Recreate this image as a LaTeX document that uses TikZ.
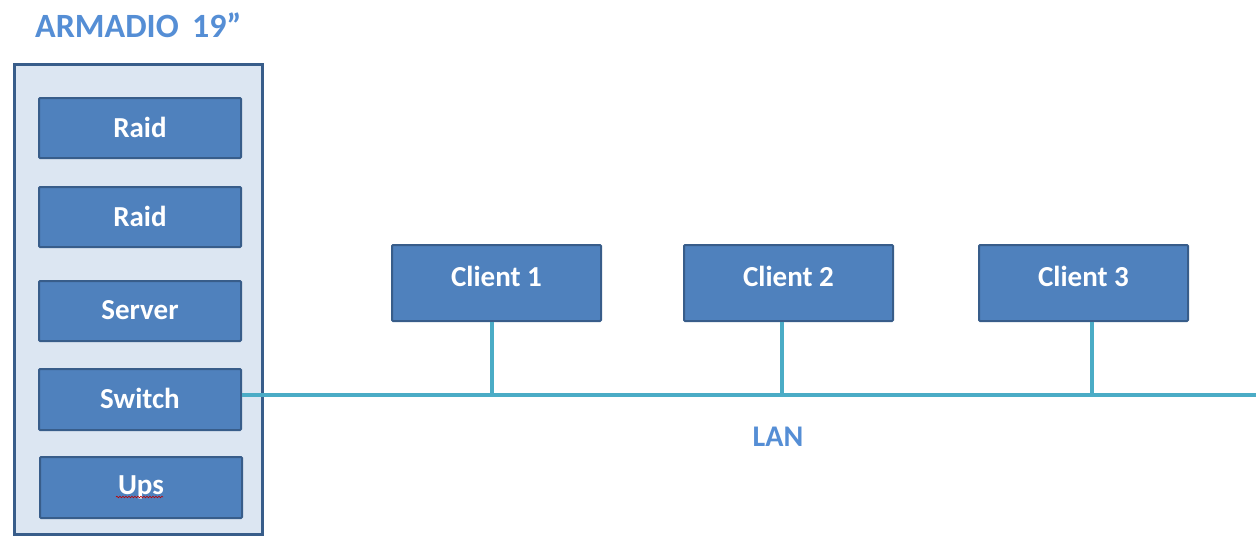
\documentclass[tikz,border=0pt]{standalone}
\usepackage{fontspec}
\setmainfont{Carlito}
\usetikzlibrary{decorations.pathmorphing}
\definecolor{boxfill}{HTML}{4F81BD}
\definecolor{boxline}{HTML}{385D8A}
\definecolor{rackfill}{HTML}{DCE6F2}
\definecolor{titlec}{HTML}{558ED5}
\definecolor{lanc}{HTML}{4BACC6}
\tikzset{
  unit/.style={draw=boxline, line width=2pt, fill=boxfill, rounded corners=1pt,
    text=white, font=\fontsize{29}{32}\selectfont\bfseries, anchor=north west, inner sep=0pt},
  lanline/.style={draw=lanc, line width=3.5pt},
}
\begin{document}
\begin{tikzpicture}[x=1pt,y=-1pt]
\useasboundingbox (0,0) rectangle (1256,536);
% rack
\node[draw=boxline, line width=3pt, fill=rackfill, anchor=north west, minimum width=248pt, minimum height=470pt, inner sep=0pt] (rack) at (13,63) {};
\node[text=titlec, font=\fontsize{34}{38}\selectfont\bfseries, anchor=west, inner sep=0pt] (title) at (35,25) {ARMADIO\, 19”};
\node[unit, minimum width=202pt, minimum height=60pt] (raid1) at (38,97) {\raisebox{2pt}{Raid}};
\node[unit, minimum width=202pt, minimum height=60pt] (raid2) at (38,186) {\raisebox{2pt}{Raid}};
\node[unit, minimum width=202pt, minimum height=60pt] (server) at (38,280) {\raisebox{2pt}{Server}};
\node[unit, minimum width=202pt, minimum height=61pt] (switch) at (38,368) {\raisebox{2pt}{Switch}};
\node[unit, minimum width=202pt, minimum height=61pt] (ups) at (39,456) {\raisebox{2pt}{Ups}};
% clients
\node[unit, minimum width=209pt, minimum height=76pt] (c1) at (391,244) {\raisebox{13pt}{Client 1}};
\node[unit, minimum width=209pt, minimum height=76pt] (c2) at (683,244) {\raisebox{13pt}{Client 2}};
\node[unit, minimum width=209pt, minimum height=76pt] (c3) at (978,244) {\raisebox{13pt}{Client 3}};
% LAN
\coordinate (lanend) at (1256,395);
\coordinate (t1) at (492,395);
\coordinate (t2) at (782,395);
\coordinate (t3) at (1092,395);
\draw[lanline] (switch.east |- lanend) -- (lanend);
\draw[lanline] (t1 |- c1.south) -- (t1);
\draw[lanline] (t2 |- c2.south) -- (t2);
\draw[lanline] (t3 |- c3.south) -- (t3);
\node[text=titlec, font=\fontsize{30}{34}\selectfont\bfseries] (lan) at (778,437) {LAN};
% spell-check squiggle under Ups
\coordinate (sq1) at (116,497);
\coordinate (sq2) at (163,497);
\draw[red!75!black, line width=0.6pt, decorate, decoration={snake, amplitude=0.8pt, segment length=3pt}] (sq1) -- (sq2);
\end{tikzpicture}
\end{document}
